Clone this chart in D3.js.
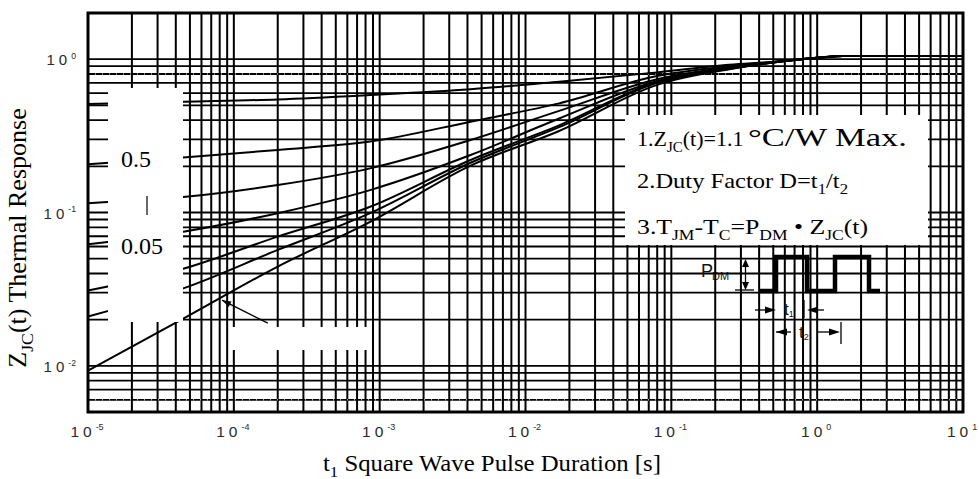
<!DOCTYPE html>
<html>
<head>
<meta charset="utf-8">
<script src="https://cdn.jsdelivr.net/npm/d3@7/dist/d3.min.js"></script>
<style>
  html, body { margin: 0; padding: 0; background: #fff; }
  svg { display: block; }
</style>
</head>
<body>
<svg id="chart" width="979" height="479"></svg>
<script>
// ---------------- data ----------------
const durations = [1e-5, 4.5e-5, 2e-4, 8.6e-4, 4.2e-3, 1.7e-2, 8e-2, 0.25, 0.5, 1, 1.5, 10];
const dutyLabels = ["0.5", "0.2", "0.1", "0.05", "0.02", "0.01", "single"];
const zD05    = [0.51,  0.528, 0.546, 0.583, 0.636, 0.713, 0.82, 0.92, 0.96, 1.02, 1.05, 1.05];
const zD02    = [0.206, 0.228, 0.256, 0.29,  0.391, 0.515, 0.776, 0.90, 0.96, 1.02, 1.05, 1.05];
const zD01    = [0.115, 0.126, 0.151, 0.194, 0.297, 0.46,  0.74, 0.89, 0.96, 1.02, 1.05, 1.05];
const zD005   = [0.062, 0.075, 0.099, 0.140, 0.237, 0.41,  0.72, 0.88, 0.955, 1.02, 1.05, 1.05];
const zD002   = [0.031, 0.043, 0.0696, 0.109, 0.22, 0.37,  0.71, 0.87, 0.95, 1.02, 1.05, 1.05];
const zD001   = [0.021, 0.032, 0.057, 0.099, 0.211, 0.36,  0.70, 0.865, 0.95, 1.02, 1.05, 1.05];
const zSingle = [0.0093, 0.0203, 0.0444, 0.087, 0.202, 0.34, 0.68, 0.86, 0.95, 1.02, 1.05, 1.05];
const seriesList = [zD05, zD02, zD01, zD005, zD002, zD001, zSingle];

const xTickExps = [-5, -4, -3, -2, -1, 0, 1];
const yTickExps = [0, -1, -2];
const xDomain = [1e-5, 10];
const yDomain = [0.005, 2];
const dottedRows = [0.8, 0.006];

// ---------------- layout ----------------
const svg = d3.select("#chart");
const L = 88, R = 963, T = 13, B = 412;
const x = d3.scaleLog().domain(xDomain).range([L, R]);
const y = d3.scaleLog().domain(yDomain).range([B, T]);

const xGrid = [];
for (let e = -5; e <= 0; e++) for (let m = 1; m <= 9; m++) xGrid.push(m * Math.pow(10, e));
xGrid.push(10);
const yGrid = [];
for (let e = -3; e <= 0; e++) for (let m = 1; m <= 9; m++) {
  const v = m * Math.pow(10, e);
  if (v >= 0.005 - 1e-9 && v <= 1 + 1e-9) yGrid.push(v);
}

const g = svg.append("g");

g.selectAll("line.vg").data(xGrid).enter().append("line")
  .attr("x1", d => x(d)).attr("x2", d => x(d))
  .attr("y1", T).attr("y2", B)
  .attr("stroke", "#000").attr("stroke-width", 2);

g.selectAll("line.hg").data(yGrid).enter().append("line")
  .attr("x1", L).attr("x2", R)
  .attr("y1", d => y(d)).attr("y2", d => y(d))
  .attr("stroke", "#000").attr("stroke-width", 1.8);

g.selectAll("line.dot").data(dottedRows).enter().append("line")
  .attr("x1", L).attr("x2", R)
  .attr("y1", d => y(d)).attr("y2", d => y(d))
  .attr("stroke", "#fff").attr("stroke-width", 1)
  .attr("stroke-dasharray", "1,6");

const line = d3.line()
  .x((d, i) => x(durations[i]))
  .y(d => y(d))
  .curve(d3.curveMonotoneX);
g.selectAll("path.curve").data(seriesList).enter().append("path")
  .attr("d", d => line(d))
  .attr("fill", "none").attr("stroke", "#000").attr("stroke-width", 2);

// pointer for single pulse
const ptrStart = [8.3e-5, 0.0268], ptrEnd = [1.71e-4, 0.019];
g.append("line")
  .attr("x1", x(ptrStart[0])).attr("y1", y(ptrStart[1]))
  .attr("x2", x(ptrEnd[0])).attr("y2", y(ptrEnd[1]))
  .attr("stroke", "#000").attr("stroke-width", 1.3);
{
  const x0 = x(ptrStart[0]), y0 = y(ptrStart[1]);
  const ang = Math.atan2(y(ptrEnd[1]) - y0, x(ptrEnd[0]) - x0);
  const len = 9, w = 3;
  const p = [[x0, y0],
    [x0 + len * Math.cos(ang) - w * Math.sin(ang), y0 + len * Math.sin(ang) + w * Math.cos(ang)],
    [x0 + len * Math.cos(ang) + w * Math.sin(ang), y0 + len * Math.sin(ang) - w * Math.cos(ang)]];
  g.append("polygon").attr("points", p.map(q => q.join(",")).join(" ")).attr("fill", "#000");
}

// white boxes
g.append("rect").attr("x", 108).attr("y", 88).attr("width", 75).attr("height", 234).attr("fill", "#fff");
g.append("rect").attr("x", 230).attr("y", 327).attr("width", 137).attr("height", 23).attr("fill", "#fff");
g.append("rect").attr("x", 625).attr("y", 115).attr("width", 303).attr("height", 130).attr("fill", "#fff");

// frame
g.append("rect").attr("x", L).attr("y", T).attr("width", R - L).attr("height", B - T)
  .attr("fill", "none").attr("stroke", "#000").attr("stroke-width", 3);

function rich(sel, parts, size) {
  const resets = [];
  parts.forEach((p, i) => {
    const [s, kind] = p;
    const t = sel.append("tspan").text(s);
    let dy = resets[i] || 0;
    if (kind === "sub") { t.attr("font-size", size * 0.68); dy += size * 0.28; resets[i + 1] = -size * 0.28; }
    else if (kind === "sup") { t.attr("font-size", size * 0.6); dy -= size * 0.45; resets[i + 1] = size * 0.45; }
    if (dy) t.attr("dy", dy);
  });
}

const serif = "'Liberation Serif', 'Times New Roman', serif";
const sans = "'Liberation Sans', Arial, sans-serif";

// legend text in left box
g.append("text").attr("x", 121).attr("y", 167).attr("font-family", serif).attr("font-size", 24).text(dutyLabels[0]);
g.append("line").attr("x1", 147).attr("x2", 147).attr("y1", 196).attr("y2", 215).attr("stroke", "#000").attr("stroke-width", 1.2);
g.append("text").attr("x", 121).attr("y", 254).attr("font-family", serif).attr("font-size", 24).text(dutyLabels[3]);

// notes
const noteSize = 22;
{
  const t = g.append("text").attr("x", 637).attr("y", 146).attr("font-family", serif).attr("font-size", noteSize);
  rich(t, [["1.Z"], ["JC", "sub"], ["(t)=1.1"]], noteSize);
  g.append("text").attr("x", 748).attr("y", 146).attr("font-family", serif).attr("font-size", 26)
    .attr("textLength", 159).attr("lengthAdjust", "spacingAndGlyphs").text("°C/W Max.");
}
{
  const t = g.append("text").attr("x", 637).attr("y", 188).attr("font-family", serif).attr("font-size", noteSize)
    .attr("textLength", 211).attr("lengthAdjust", "spacingAndGlyphs");
  rich(t, [["2.Duty Factor D=t"], ["1", "sub"], ["/t"], ["2", "sub"]], noteSize);
}
{
  const t = g.append("text").attr("x", 637).attr("y", 234).attr("font-family", serif).attr("font-size", noteSize)
    .attr("textLength", 231).attr("lengthAdjust", "spacingAndGlyphs");
  rich(t, [["3.T"], ["JM", "sub"], ["-T"], ["C", "sub"], ["=P"], ["DM", "sub"], [" • Z"], ["JC", "sub"], ["(t)"]], noteSize);
}

// waveform diagram
const wave = [[760, 291], [776, 291], [776, 257], [807, 257], [807, 291], [835, 291], [835, 257], [869, 257], [869, 291], [880, 291]];
g.append("path").attr("d", d3.line()(wave)).attr("fill", "none").attr("stroke", "#000").attr("stroke-width", 4.5).attr("stroke-linejoin", "miter");
{
  const t = g.append("text").attr("x", 701).attr("y", 277).attr("font-family", sans).attr("font-size", 18).attr("fill", "#111");
  t.append("tspan").text("P");
  t.append("tspan").text("DM").attr("font-size", 11).attr("dy", 3).attr("dx", -1);
  const sw = 1.3;
  g.append("line").attr("x1", 745.5).attr("x2", 745.5).attr("y1", 262).attr("y2", 288).attr("stroke", "#000").attr("stroke-width", sw);
  g.append("polygon").attr("points", "745.5,259 742,267 749,267").attr("fill", "#000");
  g.append("polygon").attr("points", "745.5,290 742,282 749,282").attr("fill", "#000");
  g.append("line").attr("x1", 735).attr("x2", 754).attr("y1", 290).attr("y2", 290).attr("stroke", "#000").attr("stroke-width", sw);
  g.append("line").attr("x1", 755).attr("x2", 770).attr("y1", 310).attr("y2", 310).attr("stroke", "#000").attr("stroke-width", sw);
  g.append("polygon").attr("points", "776,310 765,306.5 765,313.5").attr("fill", "#000");
  const t1 = g.append("text").attr("x", 784).attr("y", 315).attr("font-family", sans).attr("font-size", 17).attr("fill", "#111");
  t1.append("tspan").text("t");
  t1.append("tspan").text("1").attr("font-size", 9).attr("dy", 2);
  g.append("line").attr("x1", 804).attr("x2", 804).attr("y1", 300).attr("y2", 318).attr("stroke", "#000").attr("stroke-width", sw);
  g.append("polygon").attr("points", "807,310 818,306.5 818,313.5").attr("fill", "#000");
  g.append("line").attr("x1", 815).attr("x2", 824).attr("y1", 310).attr("y2", 310).attr("stroke", "#000").attr("stroke-width", sw);
  g.append("line").attr("x1", 776).attr("x2", 791).attr("y1", 332).attr("y2", 332).attr("stroke", "#000").attr("stroke-width", sw);
  g.append("polygon").attr("points", "776,332 787,328.5 787,335.5").attr("fill", "#000");
  const t2 = g.append("text").attr("x", 799).attr("y", 338).attr("font-family", sans).attr("font-size", 17).attr("fill", "#111");
  t2.append("tspan").text("t");
  t2.append("tspan").text("2").attr("font-size", 9).attr("dy", 2);
  g.append("line").attr("x1", 818).attr("x2", 832).attr("y1", 332).attr("y2", 332).attr("stroke", "#000").attr("stroke-width", sw);
  g.append("polygon").attr("points", "840,332 829,328.5 829,335.5").attr("fill", "#000");
  g.append("line").attr("x1", 841).attr("x2", 841).attr("y1", 322).attr("y2", 344).attr("stroke", "#000").attr("stroke-width", sw);
}

// tick labels
function expLabel(sel, e, anchor, size) {
  const t = sel.attr("font-family", sans).attr("font-size", size).attr("fill", "#2a2a2a").attr("text-anchor", anchor);
  t.append("tspan").text("10").attr("letter-spacing", 4);
  t.append("tspan").text(String(e)).attr("font-size", size * 0.58).attr("dy", -size * 0.42);
}
xTickExps.forEach(e => {
  expLabel(svg.append("text").attr("x", x(Math.pow(10, e)) - 1).attr("y", 437), e, "middle", 15.5);
});
yTickExps.forEach(e => {
  expLabel(svg.append("text").attr("x", 76).attr("y", y(Math.pow(10, e)) + 6), e, "end", 15);
});

// axis titles
{
  const t = svg.append("text").attr("x", 323).attr("y", 471)
    .attr("font-family", serif).attr("font-size", 23).attr("fill", "#000")
    .attr("textLength", 338).attr("lengthAdjust", "spacingAndGlyphs");
  rich(t, [["t"], ["1", "sub"], [" Square Wave Pulse Duration [s]"]], 23);
}
{
  const t = svg.append("text").attr("transform", "translate(26,238) rotate(-90)")
    .attr("text-anchor", "middle")
    .attr("font-family", serif).attr("font-size", 26).attr("fill", "#000");
  rich(t, [["Z"], ["JC", "sub"], ["(t) Thermal Response"]], 26);
}
</script>
</body>
</html>
